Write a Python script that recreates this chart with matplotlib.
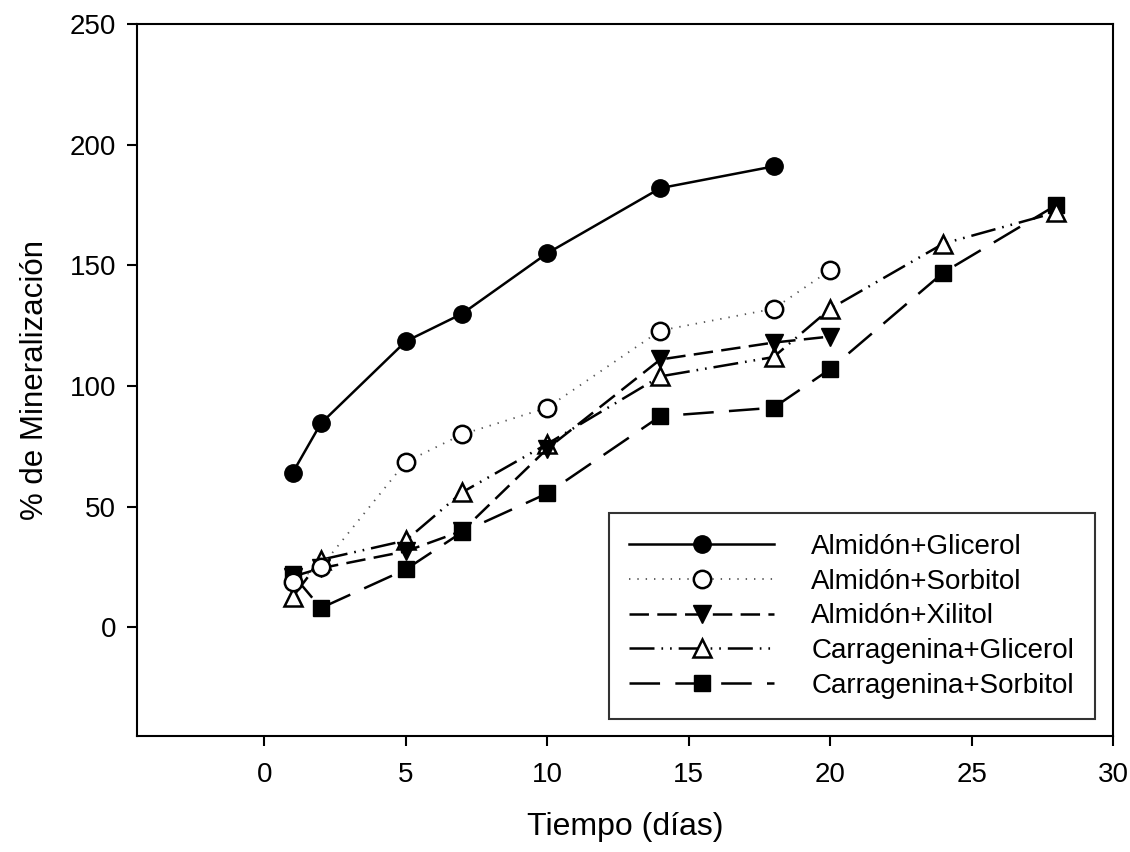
import matplotlib
matplotlib.use("Agg")
import matplotlib.pyplot as plt

plt.rcParams['font.family'] = ['Liberation Sans', 'DejaVu Sans']
plt.rcParams['lines.scale_dashes'] = False

# dias de incubacion
t_ag = [1, 2, 5, 7, 10, 14, 18]
almidon_glicerol = [64, 84.5, 118.5, 130, 155, 182, 191]

t_as = [1, 2, 5, 7, 10, 14, 18, 20]
almidon_sorbitol = [19, 25, 68.5, 80, 91, 123, 132, 148]

t_ax = [1, 2, 5, 7, 10, 14, 18, 20]
almidon_xilitol = [21, 24.5, 31.5, 40, 74, 111, 118, 120.5]

t_cg = [1, 2, 5, 7, 10, 14, 18, 20, 24, 28]
carragenina_glicerol = [12.5, 28, 36, 56, 76, 104, 112, 132, 159, 172]

t_cs = [1, 2, 5, 7, 10, 14, 18, 20, 24, 28]
carragenina_sorbitol = [22, 8, 24, 39.5, 55.5, 87.5, 91, 107, 147, 175]

fig = plt.figure(figsize=(11.3, 8.52), dpi=100)
ax = fig.add_axes([0.1212, 0.1362, 0.985 - 0.1212, 0.9718 - 0.1362])

ms = 12.5
lw = 1.8
ax.plot(t_cs, carragenina_sorbitol, color='black', lw=lw, ls=(0, (22, 11)),
        marker='s', ms=ms - 0.5, mfc='black', mec='black', label='Carragenina+Sorbitol', zorder=2)
ax.plot(t_cg, carragenina_glicerol, color='black', lw=lw, ls=(0, (18, 5, 1.2, 5, 1.2, 5)),
        marker='^', ms=ms + 1, mfc='white', mec='black', mew=1.8, label='Carragenina+Glicerol', zorder=3)
ax.plot(t_ax, almidon_xilitol, color='black', lw=lw, ls=(0, (14, 6)),
        marker='v', ms=ms + 1, mfc='black', mec='black', label='Almidón+Xilitol', zorder=4)
ax.plot(t_as, almidon_sorbitol, color='#555555', lw=1.3, ls=(0, (1, 5)),
        marker='o', ms=ms, mfc='white', mec='black', mew=1.8, label='Almidón+Sorbitol', zorder=5)
ax.plot(t_ag, almidon_glicerol, color='black', lw=lw, ls='-',
        marker='o', ms=ms, mfc='black', mec='black', label='Almidón+Glicerol', zorder=6)

ax.set_xlim(-4.5, 30)
ax.set_ylim(-45, 250)
ax.set_xticks([0, 5, 10, 15, 20, 25, 30])
ax.set_yticks([0, 50, 100, 150, 200, 250])
ax.tick_params(direction='out', length=7, width=1.5, labelsize=20, pad=8)
ax.tick_params(axis='x', pad=12)
for s in ax.spines.values():
    s.set_linewidth(1.5)

ax.set_xlabel('Tiempo (días)', fontsize=23, labelpad=17)
ax.set_ylabel('% de Mineralización', fontsize=22.5, labelpad=14)

handles, labels = ax.get_legend_handles_labels()
leg = ax.legend(handles[::-1], labels[::-1], loc='lower right',
                bbox_to_anchor=(0.9816, 0.0232), fontsize=20, frameon=True,
                fancybox=False, edgecolor='black', handlelength=5.2,
                handletextpad=1.35, borderpad=0.75, labelspacing=0.31,
                borderaxespad=0)
leg.get_frame().set_linewidth(1.5)

fig.savefig('out.png', dpi=100)
